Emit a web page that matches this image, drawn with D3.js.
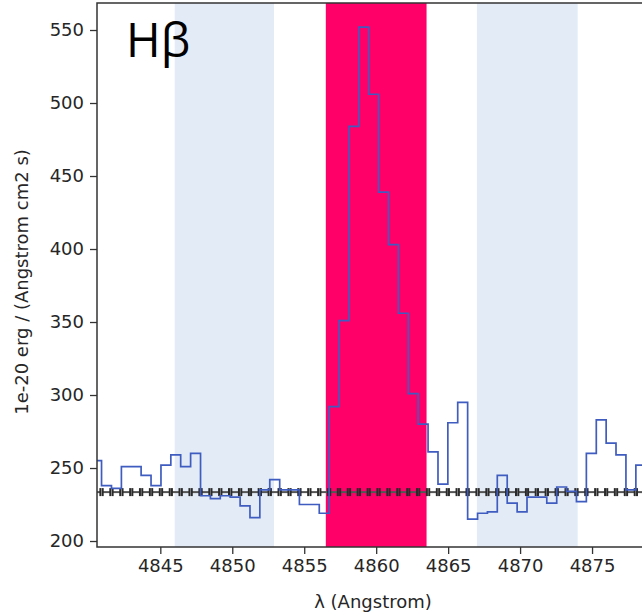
<!DOCTYPE html>
<html>
<head>
<meta charset="utf-8">
<script src="https://cdn.jsdelivr.net/npm/d3@7"></script>
<style>
  body { margin: 0; background: #fff; }
  svg { display: block; font-family: "DejaVu Sans", sans-serif; }
</style>
</head>
<body>
<svg id="chart" width="642" height="616"></svg>
<script>
// bin centres (Angstrom) and flux values
const wavelengths = [
  4840.57, 4841.26, 4841.95, 4842.64, 4843.32, 4844.01, 4844.70, 4845.39,
  4846.07, 4846.76, 4847.45, 4848.14, 4848.82, 4849.51, 4850.20, 4850.89,
  4851.57, 4852.26, 4852.95, 4853.64, 4854.32, 4855.01, 4855.70, 4856.39,
  4857.07, 4857.76, 4858.45, 4859.14, 4859.82, 4860.51, 4861.20, 4861.89,
  4862.57, 4863.26, 4863.95, 4864.64, 4865.32, 4866.01, 4866.70, 4867.39,
  4868.07, 4868.76, 4869.45, 4870.14, 4870.82, 4871.51, 4872.20, 4872.89,
  4873.57, 4874.26, 4874.95, 4875.64, 4876.32, 4877.01, 4877.70, 4878.39,
  4879.07
];
const flux = [
  255, 238, 236, 251, 251, 245, 238, 252,
  259, 251, 260, 231, 229, 231, 230, 224,
  216, 235, 242, 235, 235, 225, 225, 219,
  292, 351, 484, 552, 506, 439, 403, 356,
  301, 280, 261, 239, 281, 295, 215, 219,
  220, 245, 226, 220, 230, 230, 226, 237,
  234, 227, 260, 283, 267, 259, 235, 252,
  250
];
const continuumLevel = 233.5;

// shaded windows: [start, end]
const sideBands = [[4846.0, 4852.9], [4867.0, 4874.0]];
const lineBand = [4856.5, 4863.5];

const xTicks = [4845, 4850, 4855, 4860, 4865, 4870, 4875];
const yTicks = [200, 250, 300, 350, 400, 450, 500, 550];

const svg = d3.select('#chart');
const pLeft = 97, pTop = 3, pBottom = 547, pRight = 664;

const x = d3.scaleLinear().domain([4840.6, 4880.0]).range([pLeft, pRight]);
const y = d3.scaleLinear().domain([195.9, 568.5]).range([pBottom, pTop]);

svg.append('defs').append('clipPath').attr('id', 'plotClip')
  .append('rect')
  .attr('x', pLeft).attr('y', pTop)
  .attr('width', pRight - pLeft).attr('height', pBottom - pTop);

const plot = svg.append('g').attr('clip-path', 'url(#plotClip)');

// bands
plot.selectAll('.side')
  .data(sideBands)
  .enter()
  .append('rect')
  .attr('class', 'side')
  .attr('x', d => x(d[0]))
  .attr('width', d => x(d[1]) - x(d[0]))
  .attr('y', pTop)
  .attr('height', pBottom - pTop)
  .attr('fill', '#e3ebf6');

plot.append('rect')
  .attr('x', x(lineBand[0]))
  .attr('width', x(lineBand[1]) - x(lineBand[0]))
  .attr('y', pTop)
  .attr('height', pBottom - pTop)
  .attr('fill', '#ff0068');

// continuum: black line with H-shaped markers
const cy = y(continuumLevel);
const cont = plot.append('g').attr('stroke', '#2a2a2a');
wavelengths.forEach(w => {
  const cx = x(w);
  cont.append('line')
    .attr('x1', cx - 3.8).attr('x2', cx + 3.8)
    .attr('y1', cy).attr('y2', cy)
    .attr('stroke-width', 2).attr('stroke', '#555');
  cont.append('line')
    .attr('x1', cx - 3.8).attr('x2', cx - 3.8)
    .attr('y1', cy - 4).attr('y2', cy + 4)
    .attr('stroke-width', 2);
  cont.append('line')
    .attr('x1', cx + 3.8).attr('x2', cx + 3.8)
    .attr('y1', cy - 4).attr('y2', cy + 4)
    .attr('stroke-width', 2);
});

// spectrum as mid steps
const pts = wavelengths.map((w, i) => ({ w: w, f: flux[i] }));
const line = d3.line()
  .x(d => x(d.w))
  .y(d => y(d.f))
  .curve(d3.curveStep);

plot.append('path')
  .datum(pts)
  .attr('fill', 'none')
  .attr('stroke', '#3f5cc0')
  .attr('stroke-width', 1.7)
  .attr('d', line);

// axes
const xAxis = svg.append('g')
  .attr('transform', `translate(0,${pBottom})`)
  .call(d3.axisBottom(x).tickValues(xTicks).tickSize(7).tickPadding(5).tickFormat(d3.format('d')));
const yAxis = svg.append('g')
  .attr('transform', `translate(${pLeft},0)`)
  .call(d3.axisLeft(y).tickValues(yTicks).tickSize(7).tickPadding(6).tickFormat(d3.format('d')));

[xAxis, yAxis].forEach(a => {
  a.select('.domain').remove();
  a.selectAll('line').attr('stroke', '#333').attr('stroke-width', 1.3);
  a.selectAll('text').attr('font-size', 18).attr('fill', '#262626')
    .attr('font-family', '"DejaVu Sans", sans-serif');
});

// spines (left, top, bottom)
svg.append('path')
  .attr('d', `M${pRight},${pTop}H${pLeft}V${pBottom}H${pRight}`)
  .attr('fill', 'none')
  .attr('stroke', '#333')
  .attr('stroke-width', 1.5);

// labels
svg.append('text')
  .attr('x', 373).attr('y', 608)
  .attr('text-anchor', 'middle')
  .attr('font-size', 18).attr('fill', '#262626')
  .text('\u03bb (Angstrom)');

svg.append('text')
  .attr('transform', 'translate(28,282) rotate(-90)')
  .attr('text-anchor', 'middle')
  .attr('font-size', 18).attr('fill', '#262626')
  .text('1e-20 erg / (Angstrom cm2 s)');

svg.append('text')
  .attr('x', 126).attr('y', 57)
  .attr('font-family', '"Open Sans", "Noto Sans", sans-serif')
  .attr('font-size', 47).attr('fill', '#000')
  .text('H\u03b2');
</script>
</body>
</html>
